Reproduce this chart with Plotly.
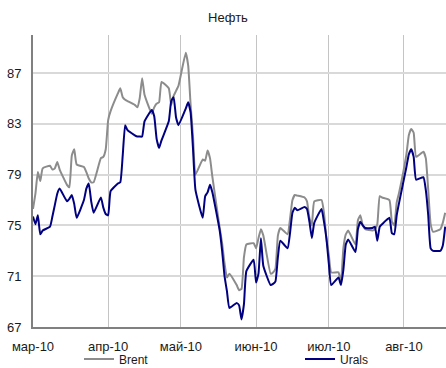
import plotly.graph_objects as go

# Daily quotes, USD per barrel
dates = [
    "2010-03-01", "2010-03-02", "2010-03-03", "2010-03-04", "2010-03-05",
    "2010-03-08", "2010-03-09", "2010-03-10", "2010-03-11", "2010-03-12",
    "2010-03-15", "2010-03-16", "2010-03-17", "2010-03-18", "2010-03-19",
    "2010-03-22", "2010-03-23", "2010-03-24", "2010-03-25", "2010-03-26",
    "2010-03-29", "2010-03-30", "2010-03-31", "2010-04-01", "2010-04-02",
    "2010-04-05", "2010-04-06", "2010-04-07", "2010-04-08", "2010-04-09",
    "2010-04-12", "2010-04-13", "2010-04-14", "2010-04-15", "2010-04-16",
    "2010-04-19", "2010-04-20", "2010-04-21", "2010-04-22", "2010-04-23",
    "2010-04-26", "2010-04-27", "2010-04-28", "2010-04-29", "2010-04-30",
    "2010-05-03", "2010-05-04", "2010-05-05", "2010-05-06", "2010-05-07",
    "2010-05-10", "2010-05-11", "2010-05-12", "2010-05-13", "2010-05-14",
    "2010-05-17", "2010-05-18", "2010-05-19", "2010-05-20", "2010-05-21",
    "2010-05-24", "2010-05-25", "2010-05-26", "2010-05-27", "2010-05-28",
    "2010-05-31", "2010-06-01", "2010-06-02", "2010-06-03", "2010-06-04",
    "2010-06-07", "2010-06-08", "2010-06-09", "2010-06-10", "2010-06-11",
    "2010-06-14", "2010-06-15", "2010-06-16", "2010-06-17", "2010-06-18",
    "2010-06-21", "2010-06-22", "2010-06-23", "2010-06-24", "2010-06-25",
    "2010-06-28", "2010-06-29", "2010-06-30", "2010-07-01", "2010-07-02",
    "2010-07-05", "2010-07-06", "2010-07-07", "2010-07-08", "2010-07-09",
    "2010-07-12", "2010-07-13", "2010-07-14", "2010-07-15", "2010-07-16",
    "2010-07-19", "2010-07-20", "2010-07-21", "2010-07-22", "2010-07-23",
    "2010-07-26", "2010-07-27", "2010-07-28", "2010-07-29", "2010-07-30",
    "2010-08-02", "2010-08-03", "2010-08-04", "2010-08-05", "2010-08-06",
    "2010-08-09", "2010-08-10", "2010-08-11", "2010-08-12", "2010-08-13",
    "2010-08-16", "2010-08-17", "2010-08-18",
]

brent = [
    76.3, 77.5, 79.2, 78.5, 79.5,
    79.7, 79.4, 79.5, 80.0, 79.4,
    78.2, 78.0, 80.5, 81.0, 79.8,
    79.6, 79.2, 78.7, 78.4, 78.4,
    80.3, 80.4, 81.0, 83.3, 84.0,
    85.4, 85.8, 85.1, 84.9, 84.8,
    84.5, 84.3, 85.0, 86.6, 85.3,
    83.8, 84.3, 84.6, 84.7, 86.3,
    85.8, 84.5, 85.2, 85.6, 86.0,
    88.6, 87.6, 84.5, 82.0, 79.0,
    80.2, 80.1, 80.9, 80.3, 78.8,
    74.8, 73.6, 72.0, 70.9, 71.2,
    70.3, 69.9, 70.0, 72.5, 73.5,
    73.6, 73.2, 74.0, 74.7, 74.2,
    71.2, 71.3, 71.6, 74.2, 74.8,
    74.3, 75.5, 77.0, 77.4, 77.35,
    77.2, 76.9, 75.6, 75.0, 76.9,
    77.0, 76.0, 74.0, 72.7, 71.3,
    71.3, 70.5, 73.2, 74.3, 74.6,
    73.5, 75.4, 75.8, 75.0, 74.7,
    74.6, 74.7, 75.1, 77.3, 77.2,
    77.0, 75.3, 75.0, 76.8, 77.6,
    80.6, 82.1, 82.6, 82.3, 80.4,
    80.8, 80.3, 77.8, 75.1, 74.5,
    74.7, 75.2, 76.0,
]

urals = [
    75.7, 75.1, 75.8, 74.3, 74.6,
    74.9, 75.7, 76.6, 77.5, 77.9,
    76.9, 77.1, 77.4, 76.7, 75.6,
    77.0, 77.9, 78.3, 76.9, 76.0,
    77.2, 76.4, 75.9, 75.8, 77.7,
    78.3, 78.4, 80.5, 82.9, 82.5,
    82.1, 82.0, 82.0, 82.0, 83.2,
    84.1, 83.6, 81.8, 81.1, 81.7,
    83.2, 84.8, 85.1, 83.5, 82.9,
    84.2, 84.7, 83.9, 81.0, 77.8,
    75.6, 77.3, 77.6, 78.2, 77.6,
    74.6, 73.0, 71.0, 69.8, 68.5,
    68.9, 68.7, 67.6, 68.8, 71.4,
    72.3, 70.5, 71.2, 74.0, 71.8,
    70.3, 70.4, 70.6, 72.5, 73.8,
    73.2, 74.4, 76.0, 76.4, 76.2,
    76.45, 76.3, 75.3, 74.0, 75.2,
    76.3, 75.3, 74.0, 72.0, 70.3,
    70.9, 70.3, 71.5, 73.5, 73.9,
    72.9, 74.7, 75.3, 75.0, 74.8,
    74.8, 74.9, 73.8, 74.9, 75.1,
    75.6, 74.4, 74.3, 75.8, 76.8,
    79.6, 80.6, 81.0, 80.4, 78.6,
    78.8, 77.8, 75.8, 73.2, 73.0,
    73.0, 73.4, 74.9,
]

month_ticks = ["2010-03-01", "2010-04-01", "2010-05-01",
               "2010-06-01", "2010-07-01", "2010-08-01"]
month_labels = ["мар-10", "апр-10", "май-10", "июн-10", "июл-10", "авг-10"]
y_ticks = [67, 71, 75, 79, 83, 87]

FONT = "Liberation Sans, Arial, sans-serif"
W, H = 446, 368

fig = go.Figure()
fig.add_trace(go.Scatter(
    x=dates, y=brent, name="Brent", mode="lines", legend="legend",
    line=dict(color="#8c8c8c", width=2, shape="spline", smoothing=0.4),
))
fig.add_trace(go.Scatter(
    x=dates, y=urals, name="Urals", mode="lines", legend="legend2",
    line=dict(color="#000080", width=2, shape="spline", smoothing=0.4),
))

legend_style = dict(orientation="h", xanchor="left", yanchor="middle",
                    xref="container", yref="container",
                    font=dict(size=12, color="#1a1a1a"),
                    bgcolor="rgba(0,0,0,0)", itemwidth=30)

fig.update_layout(
    width=W, height=H,
    margin=dict(l=33, r=0, t=35, b=41, autoexpand=False),
    paper_bgcolor="white", plot_bgcolor="white",
    font=dict(family=FONT, size=13, color="#1a1a1a"),
    title=dict(text="Нефть", x=228 / W, xref="container", xanchor="center",
               y=1 - 17 / H, yref="container", yanchor="middle",
               font=dict(size=13, color="#1a1a1a")),
    showlegend=True,
    legend=dict(legend_style, x=79 / W, y=1 - 359 / H),
    legend2=dict(legend_style, x=300 / W, y=1 - 359 / H),
)

fig.update_xaxes(
    type="date",
    range=["2010-03-01", "2010-08-18 08:00"],
    tickvals=month_ticks, ticktext=month_labels,
    showgrid=True, gridcolor="#c4c4c4", gridwidth=1,
    showline=True, linecolor="#808080", linewidth=2,
    ticks="", ticklabelstandoff=6,
    zeroline=False,
)
fig.update_yaxes(
    range=[67, 90],
    tickvals=y_ticks,
    showgrid=True, gridcolor="#d9d9d9", gridwidth=2,
    showline=True, linecolor="#808080", linewidth=2,
    ticks="", ticklabelstandoff=7,
    zeroline=False,
)

fig.write_html("out.html")
